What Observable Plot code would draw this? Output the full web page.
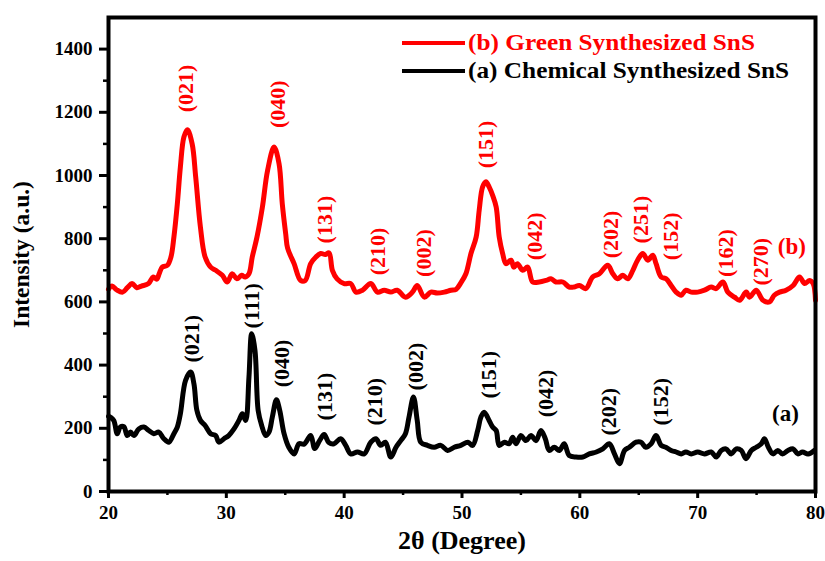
<!DOCTYPE html>
<html><head><meta charset="utf-8">
<script src="https://cdn.jsdelivr.net/npm/d3@7"></script>
<script src="https://cdn.jsdelivr.net/npm/@observablehq/plot@0.6"></script>
<style>
body{margin:0;background:#fff}
#wrap{position:relative;width:825px;height:561px;font-family:"Liberation Serif",Tinos,"Times New Roman",Times,"Nimbus Roman","DejaVu Serif",serif;font-weight:bold}
.row{position:absolute;left:402px;height:24px;display:flex;align-items:center;white-space:nowrap}
.ln{display:inline-block;width:63px;height:4px}
.tx{margin-left:3px;font-size:23px;line-height:24px;display:inline-block;transform:scaleX(1.1);transform-origin:left center}
</style>
</head><body><div id="wrap"></div>
<script>
// ---- data ----
const xTicks = [20, 30, 40, 50, 60, 70, 80];
const xMinor = [25, 35, 45, 55, 65, 75];
const yTicks = [0, 200, 400, 600, 800, 1000, 1200, 1400];
const yMinor = [100, 300, 500, 700, 900, 1100, 1300];

const redAngle = [20.0,20.3,20.7,21.2,21.6,22.0,22.4,22.8,23.4,23.8,24.1,24.3,24.56,25.0,25.3,25.55,25.84,26.1,26.4,26.7,27.1,27.4,27.8,28.2,28.67,29.1,29.66,30.08,30.5,30.9,31.3,31.6,31.92,32.2,32.6,33.06,33.5,34.05,34.47,34.75,35.04,35.2,35.75,36.3,36.7,37.16,37.6,38.0,38.4,38.72,39.0,39.4,40.0,40.56,41.0,41.55,42.26,42.83,43.4,43.96,44.5,45.2,45.8,46.2,46.8,47.36,47.9,48.5,49.06,49.5,49.9,50.33,50.76,51.2,51.46,51.75,52.03,52.3,52.6,52.9,53.16,53.45,53.73,54.16,54.4,54.7,55.15,55.57,56.0,56.56,57.13,57.55,57.98,58.55,59.1,59.5,59.96,60.5,61.1,61.66,62.37,62.8,63.2,63.65,64.07,64.5,64.9,65.34,65.77,66.19,66.47,66.9,67.32,67.75,68.17,68.6,69.0,69.45,70.0,70.58,71.15,71.57,72.14,72.56,73.13,73.55,74.12,74.4,74.97,75.54,76.1,76.5,76.95,77.5,78.1,78.65,79.07,79.5,79.8,80.0];
const redIntensity = [640,650,638,631,645,658,645,650,658,679,672,689,710,716,742,805,910,1027,1122,1145,1100,995,837,742,710,700,684,663,689,673,684,679,689,742,805,900,1016,1090,1038,910,815,770,721,668,668,721,742,753,750,755,700,673,658,658,631,637,658,631,637,631,637,615,631,652,615,631,628,631,637,640,660,689,753,805,890,964,980,964,937,900,805,753,721,732,710,721,700,710,663,663,668,673,663,663,647,647,652,642,679,689,716,689,673,684,673,700,732,753,732,748,721,679,673,652,631,621,637,631,631,637,647,642,663,631,615,605,631,615,637,605,600,621,631,637,652,679,658,668,658,605];

const blackAngle = [20.0,20.17,20.45,20.74,21.0,21.3,21.6,21.87,22.15,22.57,23.0,23.42,23.85,24.27,24.7,25.12,25.55,25.84,26.1,26.54,26.97,27.25,27.5,27.8,28.2,28.67,29.1,29.37,29.8,30.2,30.65,31.07,31.36,31.64,31.92,32.15,32.43,32.7,33.0,33.34,33.62,33.9,34.25,34.53,34.9,35.3,35.75,36.17,36.6,37.16,37.5,37.9,38.3,38.7,39.14,39.7,40.13,40.56,41.13,41.7,42.26,42.7,43.1,43.5,43.96,44.4,44.8,45.2,45.5,45.88,46.2,46.5,47.07,47.64,48.2,48.78,49.34,49.9,50.5,50.9,51.33,51.6,51.88,52.3,52.6,52.9,53.16,53.6,54.0,54.3,54.58,55.0,55.43,55.85,56.28,56.7,57.07,57.4,57.83,58.26,58.68,59.1,59.68,60.25,60.8,61.4,61.95,62.5,62.94,63.36,63.8,64.2,64.77,65.2,65.6,66.05,66.47,66.9,67.3,67.75,68.17,68.6,69.0,69.45,70.0,70.58,71.15,71.57,72.0,72.4,72.85,73.27,73.7,74.1,74.55,74.97,75.4,75.67,76.0,76.4,76.8,77.2,77.66,78.1,78.5,78.9,79.37,79.9];
const blackIntensity = [238,235,225,183,204,205,177,188,177,198,204,193,183,188,167,156,183,204,246,352,378,341,257,225,209,183,177,156,167,177,198,225,246,225,362,499,447,257,209,177,188,235,290,257,183,140,119,151,150,177,136,160,180,155,151,167,146,119,125,119,156,167,146,156,109,140,161,183,235,299,225,156,146,140,146,130,140,146,156,146,193,235,251,225,204,193,146,156,151,172,151,177,161,177,161,193,167,130,140,130,151,114,109,109,119,125,135,151,119,88,130,140,156,156,140,151,177,146,140,130,125,119,125,119,125,119,125,109,130,135,119,135,130,104,130,140,151,167,140,119,130,119,130,135,119,125,119,130];

// peak (hkl) annotations: label, 2θ of label, intensity where label starts
const redPeakText  = ["(021)","(040)","(131)","(210)","(002)","(151)","(042)","(202)","(251)","(152)","(162)","(270)"];
const redPeakAngle = [26.6, 34.4, 38.35, 42.83, 46.74, 52.03, 56.2, 62.65, 65.2, 67.75, 72.4, 75.4];
const redPeakLevel = [1200, 1150, 785, 684, 679, 1023, 732, 738, 785, 732, 679, 652];

const blackPeakText  = ["(021)","(111)","(040)","(131)","(210)","(002)","(151)","(042)","(202)","(152)"];
const blackPeakAngle = [27.05, 32.15, 34.7, 38.4, 42.6, 46.1, 52.3, 57.1, 62.5, 66.9];
const blackPeakLevel = [408, 516, 330, 225, 209, 320, 294, 235, 177, 209];

const seriesText  = ["(b)", "(a)"];
const seriesAngle = [78.0, 77.45];
const seriesLevel = [776, 247];
const seriesColor = ["#ff0000", "#000000"];

const legendText  = ["(b) Green Synthesized SnS", "(a) Chemical Synthesized SnS"];
const xTitle = "2θ (Degree)";
const yTitle = "Intensity (a.u.)";

// ---- build ----
const red = redAngle.map((a, i) => ({a, v: redIntensity[i]}));
const black = blackAngle.map((a, i) => ({a, v: blackIntensity[i]}));
const redLab = redPeakText.map((t, i) => ({t, a: redPeakAngle[i], v: redPeakLevel[i]}));
const blackLab = blackPeakText.map((t, i) => ({t, a: blackPeakAngle[i], v: blackPeakLevel[i]}));
const serLab = seriesText.map((t, i) => ({t, a: seriesAngle[i], v: seriesLevel[i], c: seriesColor[i]}));

const font = '"Liberation Serif", Tinos, "Times New Roman", Times, "Nimbus Roman", "DejaVu Serif", serif';
const chart = Plot.plot({
  width: 825, height: 561,
  marginLeft: 108, marginRight: 10, marginTop: 17, marginBottom: 70,
  style: {fontFamily: font, fontWeight: "bold", color: "#000", background: "#fff", overflow: "visible"},
  x: {domain: [20, 80]},
  y: {domain: [0, 1500]},
  marks: [
    Plot.axisX({ticks: xTicks, tickFormat: d => String(d), tickSize: 7, tickPadding: 7, strokeWidth: 3, fontSize: 19, fontWeight: "bold", fontFamily: font, label: null}),
    Plot.axisX({ticks: xMinor, tickSize: 4, strokeWidth: 2.5, text: null, label: null}),
    Plot.axisY({ticks: yTicks, tickFormat: d => String(d), tickSize: 9, tickPadding: 7, strokeWidth: 3, fontSize: 19, fontWeight: "bold", fontFamily: font, label: null}),
    Plot.axisY({ticks: yMinor, tickSize: 5, strokeWidth: 2.5, text: null, label: null}),
    Plot.line(black, {x: "a", y: "v", stroke: "#000", strokeWidth: 5, curve: "catmull-rom", strokeLinejoin: "round"}),
    Plot.line(red, {x: "a", y: "v", stroke: "#ff0000", strokeWidth: 5, curve: "catmull-rom", strokeLinejoin: "round"}),
    Plot.text(redLab, {x: "a", y: "v", text: "t", rotate: -90, textAnchor: "start", fill: "#ff0000", fontSize: 22, fontWeight: "bold", fontFamily: font}),
    Plot.text(blackLab, {x: "a", y: "v", text: "t", rotate: -90, textAnchor: "start", fill: "#000", fontSize: 22, fontWeight: "bold", fontFamily: font}),
    Plot.text(serLab, {x: "a", y: "v", text: "t", fill: "c", fontSize: 23, fontWeight: "bold", fontFamily: font}),
    Plot.frame({stroke: "#000", strokeWidth: 4}),
    Plot.text([xTitle], {frameAnchor: "bottom", dy: 57, fontSize: 26, fontWeight: "bold", fontFamily: font, fill: "#000"}),
    Plot.text([yTitle], {frameAnchor: "left", textAnchor: "middle", dx: -87, rotate: -90, fontSize: 23.5, fontWeight: "bold", fontFamily: font, fill: "#000"})
  ]
});
const wrap = document.getElementById("wrap");
wrap.appendChild(chart);
const tops = [31, 59];
const cols = ["#ff0000", "#000000"];
legendText.forEach((t, i) => {
  const row = document.createElement("div");
  row.className = "row";
  row.style.top = tops[i] + "px";
  const ln = document.createElement("span");
  ln.className = "ln"; ln.style.background = cols[i];
  const tx = document.createElement("span");
  tx.className = "tx"; tx.style.color = cols[i]; tx.textContent = t;
  row.appendChild(ln); row.appendChild(tx);
  wrap.appendChild(row);
});
</script>
</body></html>
